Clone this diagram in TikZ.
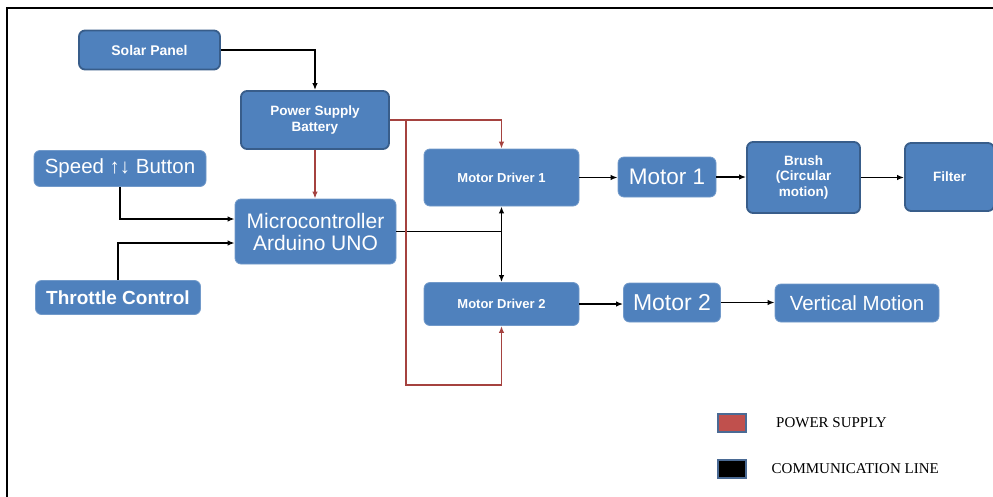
\documentclass[tikz,border=0pt]{standalone}
\usepackage{fontspec}
\setmainfont{Liberation Sans}
\newfontfamily\legendfont{Liberation Serif}
\usetikzlibrary{arrows.meta}
\definecolor{boxblue}{HTML}{4F81BD}
\definecolor{boxedge}{HTML}{385D8A}
\definecolor{pwrred}{HTML}{A5423F}
\definecolor{pwrfill}{HTML}{C0504D}
\definecolor{legedge}{HTML}{4A6A94}
\newcommand{\fsz}[1]{\fontsize{#1}{#1}\selectfont}
\tikzset{
  blk/.style={rounded corners=6pt, fill=boxblue, draw=boxblue!80!white, line width=0.8pt,
    text=white, align=center, inner sep=0pt},
  edged/.style={blk, draw=boxedge, line width=1.8pt},
  commline/.style={line width=1.5pt, black},
  comm/.style={commline, -{Latex[length=7pt,width=5.5pt]}},
  pwrline/.style={line width=1.5pt, pwrred},
  pwr/.style={pwrline, -{Latex[length=7pt,width=5.5pt]}},
  legsq/.style={draw=legedge, line width=2pt, minimum width=28pt, minimum height=18pt, inner sep=0pt},
  legtxt/.style={anchor=west, inner sep=0pt, font=\legendfont\fsz{15}}
}
\begin{document}
\begin{tikzpicture}[x=1pt,y=-1pt]
\useasboundingbox (0,0) rectangle (993,496);
\fill[white] (0,0) rectangle (993,496);
% outer frame (runs off the right and bottom edges)
\draw[line width=2pt] (6.5,497) -- (6.5,8) -- (994,8);

% blocks
\node[edged, minimum width=141pt, minimum height=39pt, font=\bfseries\fsz{14}] (solar) at (149.5,50) {Solar Panel};
\node[edged, minimum width=148pt, minimum height=58pt, font=\bfseries\fsz{13.5}] (psb) at (315,120) {Power Supply\\[2pt]Battery};
\node[blk, minimum width=172pt, minimum height=36pt, font=\fsz{20.5}] (speed) at (120,168.5) {Speed ↑↓ Button};
\node[blk, minimum width=161pt, minimum height=65pt, font=\fsz{21}] (mcu) at (315.5,231.5) {Microcontroller\\[1pt]Arduino UNO};
\node[blk, minimum width=165pt, minimum height=34pt, font=\bfseries\fsz{19}] (throttle) at (118,297.5) {Throttle Control};
\node[blk, minimum width=155pt, minimum height=57pt, font=\bfseries\fsz{13}] (md1) at (501.5,177.5) {Motor Driver 1};
\node[blk, minimum width=155pt, minimum height=43pt, font=\bfseries\fsz{13}] (md2) at (501.5,304) {Motor Driver 2};
\node[blk, minimum width=98pt, minimum height=40pt, font=\fsz{22.5}] (motor1) at (667,177) {Motor 1};
\node[blk, minimum width=97pt, minimum height=39pt, font=\fsz{23}] (motor2) at (672,302.5) {Motor 2};
\node[edged, minimum width=113pt, minimum height=71pt, font=\bfseries\fsz{13.5}] (brush) at (803.5,177.5) {Brush\\[2pt](Circular\\[2pt]motion)};
\node[edged, minimum width=89pt, minimum height=68pt, font=\bfseries\fsz{13.5}] (filter) at (949.5,177) {Filter};
\node[blk, minimum width=164pt, minimum height=38pt, font=\fsz{20.5}] (vert) at (857,303) {Vertical Motion};

% communication lines
\draw[comm] (solar.east) -| (psb.north);
\draw[comm] (speed.south) |- ([yshift=12.5pt]mcu.west);
\draw[comm] (throttle.north) |- ([yshift=-11.5pt]mcu.west);
\coordinate (hub) at (mcu.east -| md1.south);
\draw[commline] (mcu.east) -- (hub);
\draw[comm] (hub) -- (md1.south);
\draw[comm] (hub) -- (md2.north);
\draw[comm] (md1.east) -- (motor1.west |- md1.east);
\draw[comm] (motor1.east) -- (brush.west |- motor1.east);
\draw[comm] (brush.east) -- (filter.west |- brush.east);
\draw[comm] (md2.east) -- (motor2.west |- md2.east);
\draw[comm] (motor2.east) -- (vert.west |- motor2.east);

% power supply lines
\draw[pwr] (psb.south) -- (mcu.north -| psb.south);
\draw[pwr] (psb.east) -| (md1.north);
\coordinate (rtop) at (406,120);
\coordinate (rbot) at (406,385);
\draw[pwr] (rtop) -- (rbot) -| (md2.south);

% legend
\node[legsq, fill=pwrfill] (legp) at (732,423) {};
\node[legtxt] (legpt) at (776,423) {POWER SUPPLY};
\node[legsq, fill=black] (legc) at (732,469) {};
\node[legtxt] (legct) at (771.5,469) {COMMUNICATION LINE};
\end{tikzpicture}
\end{document}
